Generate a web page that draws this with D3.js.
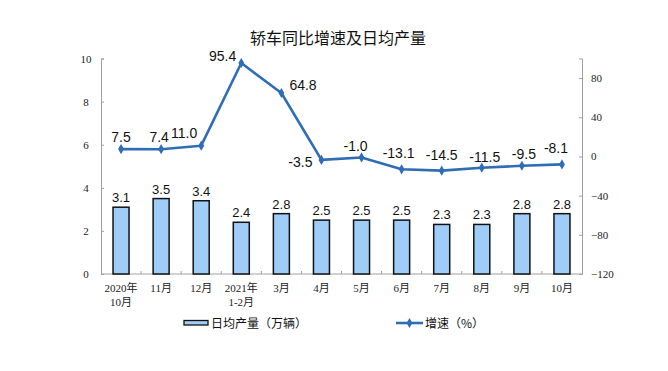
<!DOCTYPE html>
<html>
<head>
<meta charset="utf-8">
<script src="https://cdn.jsdelivr.net/npm/d3@7"></script>
<style>
  body { margin: 0; background: #fff; }
  svg { display: block; }
  .tick-label { font-family: "Liberation Serif", "Noto Sans CJK SC", serif; font-size: 11px; fill: #222; }
  .val { font-family: "Liberation Sans", Arial, sans-serif; fill: #111; }
  .cjk { font-family: "Noto Sans CJK SC", sans-serif; fill: #111; }
</style>
</head>
<body>
<div id="chart"></div>
<script>
// categories (two lines each)
const categories = [['2020年', '10月'], ['11月'], ['12月'], ['2021年', '1-2月'], ['3月'], ['4月'],
                    ['5月'], ['6月'], ['7月'], ['8月'], ['9月'], ['10月']];
// daily output, 10k vehicles
const dailyOutput = [3.1, 3.5, 3.4, 2.4, 2.8, 2.5, 2.5, 2.5, 2.3, 2.3, 2.8, 2.8];
// growth rate, %
const growth = [7.5, 7.4, 11.0, 95.4, 64.8, -3.5, -1.0, -13.1, -14.5, -11.5, -9.5, -8.1];
const leftTicks = [0, 2, 4, 6, 8, 10];
const rightTicks = [-120, -80, -40, 0, 40, 80];

// label offsets relative to points [dx, dy, anchor]
const growthLabelPos = [
    [0, -7, 'middle'], [-2, -7, 'middle'], [-4, -8, 'end'], [-5, -2, 'end'],
    [8, -3, 'start'], [-9, 7, 'end'], [-6, -6, 'middle'], [-3, -11, 'middle'],
    [0, -11, 'middle'], [3, -6, 'middle'], [2, -7, 'middle'], [-6, -11, 'middle']
];

const width = 668, height = 371;
const plot = { left: 101, right: 582, top: 58.5, bottom: 274 };
const lineColor = '#2f6db5';

const svg = d3.select('#chart').append('svg')
    .attr('width', width)
    .attr('height', height);

// title
svg.append('text')
    .attr('class', 'cjk')
    .attr('x', 338).attr('y', 44)
    .attr('text-anchor', 'middle')
    .style('font-size', '16px')
    .text('轿车同比增速及日均产量');

const x = d3.scaleBand()
    .domain(d3.range(categories.length))
    .range([plot.left, plot.right]);

const yLeft = d3.scaleLinear().domain([0, 10]).range([plot.bottom, plot.top]);
const yRight = d3.scaleLinear().domain([-120, 100]).range([plot.bottom, plot.top]);

// left axis
const leftAxis = svg.append('g')
    .attr('transform', `translate(${plot.left},0)`)
    .call(d3.axisLeft(yLeft).tickValues(leftTicks).tickSize(-3).tickPadding(14));
leftAxis.select('.domain').attr('stroke', '#a0a0a0');
leftAxis.selectAll('.tick line').attr('stroke', '#a0a0a0');
leftAxis.selectAll('.tick text').attr('class', 'tick-label').attr('text-anchor', 'middle').attr('dx', '-0.1em');

// right axis
const rightAxis = svg.append('g')
    .attr('transform', `translate(${plot.right},0)`)
    .call(d3.axisRight(yRight).tickValues(rightTicks).tickSize(-3).tickPadding(9));
rightAxis.select('.domain').attr('stroke', '#a0a0a0');
rightAxis.selectAll('.tick line').attr('stroke', '#a0a0a0');
rightAxis.selectAll('.tick text').attr('class', 'tick-label');

// bottom axis
const bottom = svg.append('g');
bottom.append('line')
    .attr('x1', plot.left).attr('x2', plot.right)
    .attr('y1', plot.bottom).attr('y2', plot.bottom)
    .attr('stroke', '#a0a0a0');
bottom.selectAll('.sep')
    .data(d3.range(1, categories.length))
    .enter().append('line')
    .attr('x1', i => x(i)).attr('x2', i => x(i))
    .attr('y1', plot.bottom).attr('y2', plot.bottom - 3)
    .attr('stroke', '#a0a0a0');

bottom.selectAll('.cat')
    .data(categories)
    .enter().append('text')
    .attr('class', 'tick-label')
    .attr('text-anchor', 'middle')
    .each(function (d, i) {
        const t = d3.select(this);
        d.forEach((line, j) => {
            t.append('tspan')
                .attr('x', x(i) + x.bandwidth() / 2)
                .attr('y', 292 + j * 14)
                .text(line);
        });
    });

// bars
const barW = 16;
svg.append('g')
    .selectAll('rect')
    .data(dailyOutput)
    .enter().append('rect')
    .attr('x', (d, i) => x(i) + x.bandwidth() / 2 - barW / 2)
    .attr('y', d => yLeft(d))
    .attr('width', barW)
    .attr('height', d => plot.bottom - yLeft(d))
    .attr('fill', '#9fcdf7')
    .attr('stroke', '#111')
    .attr('stroke-width', 1.5);

svg.append('g')
    .selectAll('text')
    .data(dailyOutput)
    .enter().append('text')
    .attr('class', 'val')
    .attr('x', (d, i) => x(i) + x.bandwidth() / 2)
    .attr('y', d => yLeft(d) - 5)
    .attr('text-anchor', 'middle')
    .style('font-size', '13px')
    .text(d => d.toFixed(1));

// growth line
const cx = i => x(i) + x.bandwidth() / 2;
const line = d3.line()
    .x((d, i) => cx(i))
    .y(d => yRight(d));

svg.append('path')
    .datum(growth)
    .attr('d', line)
    .attr('fill', 'none')
    .attr('stroke', lineColor)
    .attr('stroke-width', 2.6)
    .attr('stroke-linejoin', 'round');

const diamond = d3.symbol().type(d3.symbolDiamond).size(30);
svg.append('g')
    .selectAll('path')
    .data(growth)
    .enter().append('path')
    .attr('d', diamond)
    .attr('transform', (d, i) => `translate(${cx(i)},${yRight(d)})`)
    .attr('fill', lineColor);

svg.append('g')
    .selectAll('text')
    .data(growth)
    .enter().append('text')
    .attr('class', 'val')
    .attr('x', (d, i) => cx(i) + growthLabelPos[i][0])
    .attr('y', (d, i) => yRight(d) + growthLabelPos[i][1])
    .attr('text-anchor', (d, i) => growthLabelPos[i][2])
    .style('font-size', '14px')
    .text(d => d.toFixed(1));

// legend
const legend = svg.append('g');
legend.append('rect')
    .attr('x', 184).attr('y', 320.5)
    .attr('width', 24).attr('height', 4.5)
    .attr('fill', '#9fcdf7')
    .attr('stroke', '#111')
    .attr('stroke-width', 1.3);
legend.append('text')
    .attr('class', 'cjk')
    .attr('x', 211).attr('y', 327.5)
    .style('font-size', '12px')
    .text('日均产量（万辆）');

legend.append('line')
    .attr('x1', 396).attr('x2', 423)
    .attr('y1', 323).attr('y2', 323)
    .attr('stroke', lineColor)
    .attr('stroke-width', 2.6);
legend.append('path')
    .attr('d', diamond)
    .attr('transform', 'translate(409.5,323)')
    .attr('fill', lineColor);
legend.append('text')
    .attr('class', 'cjk')
    .attr('x', 425).attr('y', 327.5)
    .style('font-size', '12px')
    .text('增速（%）');
</script>
</body>
</html>
